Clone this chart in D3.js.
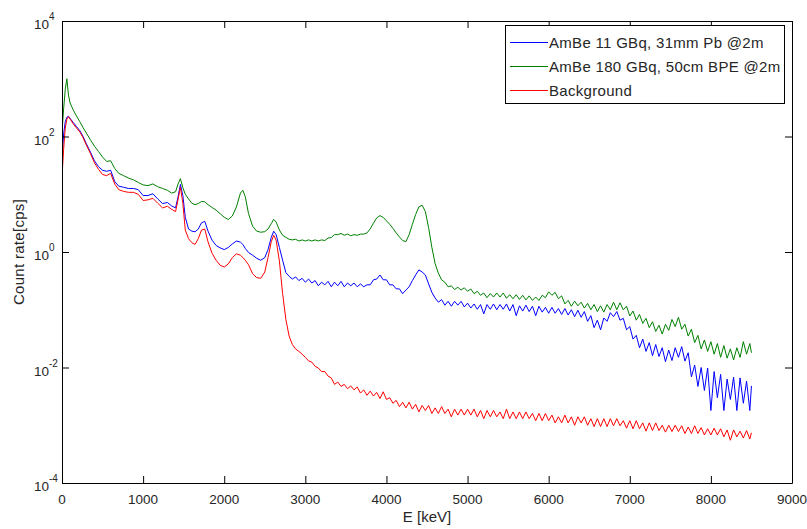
<!DOCTYPE html>
<html><head><meta charset="utf-8">
<script src="https://cdn.jsdelivr.net/npm/d3@7"></script>
<style>
body{margin:0;background:#fff}
svg{display:block}
text{font-family:"Liberation Sans",Arial,Helvetica,sans-serif;fill:#262626}
</style>
</head><body>
<svg id="c" width="807" height="529"></svg>
<script>
// Energy channels (keV)
const energy = [
  0,20,40,60,80,100,140,180,220,260,
  300,350,400,450,500,550,600,650,700,760,
  820,880,940,1000,1060,1120,1180,1240,1300,1350,
  1400,1430,1460,1490,1520,1560,1600,1640,1680,1720,
  1760,1800,1850,1900,1950,2000,2050,2100,2150,2200,
  2230,2260,2300,2350,2400,2450,2500,2540,2580,2610,
  2640,2680,2720,2760,
  2800,2840,2880,2920,2960,3000,3040,3080,3120,3160,
  3200,3240,3280,3320,3360,3400,3440,3480,3520,3560,
  3600,3640,3680,3720,3760,3800,3840,3880,3920,3960,
  4000,4040,4080,4120,4160,4200,4240,4280,4320,4360,
  4400,4440,4480,4520,4560,4600,4640,4680,4720,4760,
  4800,4840,4880,4920,4960,5000,5040,5080,5120,5160,
  5200,5240,5280,5320,5360,5400,5440,5480,5520,5560,
  5600,5640,5680,5720,5760,5800,5840,5880,5920,5960,
  6000,6040,6080,6120,6160,6200,6240,6280,6320,6360,
  6400,6440,6480,6520,6560,6600,6640,6680,6720,6760,
  6800,6840,6880,6920,6960,7000,7040,7080,7120,7160,
  7200,7240,7280,7320,7360,7400,7440,7480,7520,7560,
  7600,7640,7680,7720,7760,7800,7840,7880,7920,7960,
  8000,8040,8080,8120,8160,8200,8240,8280,8320,8360,
  8400,8440,8480,8500
];

// Count rate [cps] : AmBe 11 GBq, 31mm Pb @2m
const rateBlue = [
  40,110,180,215,224,205,174,148,126,100,
  75,54,38,30,26,25,26,16.6,13.8,13.2,
  12.6,12.6,12.0,9.5,9.5,10.2,8.3,6.9,7.2,6.3,
  5.8,8.9,14.8,9.5,4.0,2.5,2.3,2.24,2.5,3.2,
  3.4,2.3,1.6,1.3,1.18,1.10,1.2,1.38,1.55,1.48,
  1.35,1.15,0.98,0.88,0.78,0.72,0.80,1.1,1.8,2.29,
  2.0,1.2,0.72,0.44,
  0.38,0.34,0.37,0.32,0.35,0.30,0.34,0.29,0.32,0.26,
  0.30,0.27,0.31,0.25,0.30,0.26,0.31,0.25,0.29,0.26,
  0.29,0.25,0.28,0.25,0.27,0.27,0.33,0.34,0.40,0.33,
  0.33,0.27,0.27,0.23,0.23,0.19,0.22,0.25,0.32,0.40,
  0.49,0.45,0.40,0.28,0.20,0.16,0.135,0.15,0.12,0.14,
  0.115,0.14,0.12,0.14,0.112,0.13,0.107,0.126,0.102,0.123,
  0.085,0.123,0.102,0.126,0.100,0.123,0.102,0.126,0.095,0.123,
  0.079,0.117,0.095,0.12,0.093,0.115,0.079,0.115,0.091,0.11,
  0.087,0.11,0.087,0.105,0.083,0.105,0.081,0.10,0.076,0.098,
  0.074,0.093,0.063,0.079,0.049,0.066,0.045,0.072,0.063,0.089,
  0.076,0.093,0.066,0.071,0.045,0.051,0.031,0.036,0.022,0.031,
  0.019,0.027,0.016,0.025,0.0155,0.022,0.0126,0.020,0.0132,0.022,
  0.015,0.023,0.0129,0.018,0.0069,0.011,0.0047,0.0100,0.0040,0.0098,
  0.0018,0.0085,0.0030,0.0076,0.0018,0.0063,0.0028,0.0068,0.0018,0.0066,
  0.0024,0.0058,0.0018,0.0048
];

// Count rate [cps] : AmBe 180 GBq, 50cm BPE @2m
const rateGreen = [
  117,300,650,1000,520,380,285,225,180,142,
  115,88,68,55,44,37,38,28,23,21,
  19,17.8,16,14.5,14.1,15.1,13.5,12.6,11.7,10.5,
  11.0,15,18.6,13,10,8.3,7.0,6.6,6.9,7.5,
  7.4,6.6,5.9,5.3,4.6,4.0,3.65,4.2,6.0,10.5,
  11.7,9.0,4.6,2.8,2.3,2.2,2.25,2.5,3.1,3.67,
  3.3,2.4,1.95,1.8,
  1.66,1.62,1.66,1.55,1.62,1.55,1.62,1.55,1.62,1.55,
  1.62,1.58,1.74,1.78,2.0,2.0,2.09,1.95,2.04,1.91,
  2.0,1.95,2.04,2.04,2.14,2.51,3.16,3.89,4.27,3.98,
  3.47,3.02,2.57,2.14,1.82,1.58,1.51,2.0,3.02,4.47,
  6.03,6.46,5.01,2.63,1.20,0.63,0.43,0.33,0.30,0.25,
  0.26,0.224,0.245,0.219,0.24,0.209,0.229,0.19,0.209,0.178,
  0.195,0.162,0.191,0.166,0.195,0.166,0.195,0.158,0.182,0.155,
  0.182,0.151,0.178,0.148,0.174,0.145,0.166,0.145,0.178,0.162,
  0.204,0.178,0.2,0.155,0.174,0.126,0.145,0.115,0.141,0.117,
  0.135,0.107,0.129,0.10,0.123,0.093,0.117,0.091,0.123,0.10,
  0.135,0.10,0.132,0.10,0.115,0.078,0.095,0.066,0.083,0.058,
  0.071,0.049,0.062,0.042,0.054,0.038,0.056,0.044,0.068,0.051,
  0.074,0.046,0.056,0.035,0.046,0.027,0.036,0.021,0.030,0.019,
  0.028,0.017,0.026,0.015,0.024,0.0145,0.021,0.0135,0.022,0.015,
  0.028,0.017,0.026,0.018
];

// Count rate [cps] : Background
const rateRed = [
  20,60,140,200,220,200,165,140,120,95,
  71,51,35,27,22,21,23,15,12.0,11.2,
  10.8,10.8,10.0,7.8,8.0,8.5,7.0,5.8,6.2,5.5,
  5.0,8.0,13.2,7.0,2.4,1.7,1.45,1.35,1.7,2.4,
  2.5,1.5,0.95,0.72,0.59,0.55,0.62,0.80,0.93,0.88,
  0.80,0.72,0.60,0.42,0.36,0.35,0.45,0.80,1.5,1.95,
  1.6,0.70,0.19,0.068,
  0.035,0.025,0.021,0.019,0.017,0.015,0.013,0.0124,0.0105,0.0098,
  0.0085,0.0085,0.0071,0.0066,0.0051,0.0056,0.0047,0.0051,0.0043,0.0048,
  0.0041,0.0046,0.0036,0.0041,0.0033,0.0039,0.0032,0.0037,0.0029,0.0038,
  0.0028,0.0030,0.0024,0.0027,0.0021,0.0025,0.0020,0.0025,0.0019,0.0023,
  0.0017,0.0022,0.0018,0.0022,0.0016,0.0020,0.0016,0.0021,0.0016,0.0019,
  0.0014,0.0019,0.0015,0.0019,0.0015,0.0019,0.0015,0.0019,0.0014,0.0018,
  0.0013,0.0018,0.0014,0.0018,0.0014,0.0017,0.0013,0.0019,0.0013,0.0017,
  0.0013,0.0017,0.0013,0.0017,0.0013,0.0016,0.0012,0.0016,0.0012,0.0016,
  0.0012,0.0015,0.0011,0.0014,0.0011,0.0015,0.0011,0.0014,0.0010,0.0014,
  0.0011,0.0014,0.0010,0.0013,0.00095,0.0013,0.00095,0.0013,0.00095,0.0013,
  0.00098,0.0013,0.00098,0.0012,0.00089,0.0012,0.00087,0.0012,0.00087,0.0011,
  0.00079,0.0011,0.00081,0.0011,0.00081,0.0010,0.00076,0.0010,0.00078,0.0010,
  0.00078,0.00098,0.00072,0.00093,0.00072,0.00098,0.00072,0.00091,0.00068,0.00087,
  0.00068,0.00089,0.00068,0.00087,0.00063,0.00083,0.00055,0.00083,0.00063,0.00079,
  0.00060,0.00081,0.00058,0.00074
];

const seriesNames = ["AmBe 11 GBq, 31mm Pb @2m", "AmBe 180 GBq, 50cm BPE @2m", "Background"];
const seriesColors = ["#0000ff", "#008000", "#ff0000"];
const xTicks = [0,1000,2000,3000,4000,5000,6000,7000,8000,9000];
const yTicks = [1e-4,1e-2,1,1e2,1e4];
const yTickExp = ["-4","-2","0","2","4"];
const xLabel = "E [keV]";
const yLabel = "Count rate[cps]";

const svg = d3.select("#c");
const W = 807, H = 529;
const P = {l: 62, r: 792, t: 21, b: 483};

const x = d3.scaleLinear().domain([0, 9000]).range([P.l, P.r]);
const y = d3.scaleLog().domain([1e-4, 1e4]).range([P.b, P.t]);

svg.append("rect").attr("width", W).attr("height", H).attr("fill", "#fff");

svg.append("defs").append("clipPath").attr("id", "clip")
  .append("rect").attr("x", P.l).attr("y", P.t).attr("width", P.r - P.l).attr("height", P.b - P.t);

// series
const series = [rateBlue, rateGreen, rateRed];
const line = d3.line().x(d => x(d[0])).y(d => y(d[1]));
const gLines = svg.append("g").attr("clip-path", "url(#clip)");
series.forEach((vals, i) => {
  const pts = energy.map((e, k) => [e, vals[k]]);
  gLines.append("path").datum(pts)
    .attr("d", line)
    .attr("fill", "none")
    .attr("stroke", seriesColors[i])
    .attr("stroke-width", 1)
    .attr("stroke-linejoin", "miter");
});

// axes
const tick = 7;
function styleAxis(g) {
  g.selectAll("path.domain").attr("stroke", "#000");
  g.selectAll(".tick line").attr("stroke", "#000");
  g.selectAll("text").remove();
}
svg.append("g").attr("transform", `translate(0,${P.b})`)
  .call(d3.axisBottom(x).tickValues(xTicks).tickSizeInner(-tick).tickSizeOuter(0))
  .call(styleAxis);
svg.append("g").attr("transform", `translate(0,${P.t})`)
  .call(d3.axisTop(x).tickValues(xTicks).tickSizeInner(-tick).tickSizeOuter(0))
  .call(styleAxis);
svg.append("g").attr("transform", `translate(${P.l},0)`)
  .call(d3.axisLeft(y).tickValues(yTicks).tickSizeInner(-tick).tickSizeOuter(0))
  .call(styleAxis);
svg.append("g").attr("transform", `translate(${P.r},0)`)
  .call(d3.axisRight(y).tickValues(yTicks).tickSizeInner(-tick).tickSizeOuter(0))
  .call(styleAxis);

// x tick labels
svg.append("g").selectAll("text").data(xTicks).join("text")
  .attr("x", d => x(d)).attr("y", P.b + 21)
  .attr("text-anchor", "middle").attr("font-size", 13.5)
  .text(d => d);

// y tick labels with superscripts
const yl = svg.append("g").selectAll("text").data(yTicks).join("text")
  .attr("x", 34).attr("y", d => y(d) + 8)
  .attr("font-size", 13.5);
yl.append("tspan").text("10");
yl.append("tspan").attr("dy", -9).attr("font-size", 10).text((d, i) => yTickExp[i]);

// axis titles
svg.append("text").attr("x", (P.l + P.r) / 2).attr("y", 522)
  .attr("text-anchor", "middle").attr("font-size", 15).text(xLabel);
svg.append("text").attr("transform", `translate(24,${(P.t + P.b) / 2}) rotate(-90)`)
  .attr("text-anchor", "middle").attr("font-size", 15).attr("letter-spacing", 0.3).text(yLabel);

// legend
const lg = svg.append("g");
lg.append("rect").attr("x", 505.5).attr("y", 25.5).attr("width", 279).attr("height", 78)
  .attr("fill", "#fff").attr("stroke", "#000");
seriesNames.forEach((name, i) => {
  const yy = 42.5 + i * 24;
  lg.append("line").attr("x1", 510).attr("x2", 548).attr("y1", yy).attr("y2", yy)
    .attr("stroke", seriesColors[i]).attr("stroke-width", 1);
  lg.append("text").attr("x", 549).attr("y", yy + 5.5).attr("font-size", 15)
    .attr("letter-spacing", 0.3).text(name);
});
</script>
</body></html>
